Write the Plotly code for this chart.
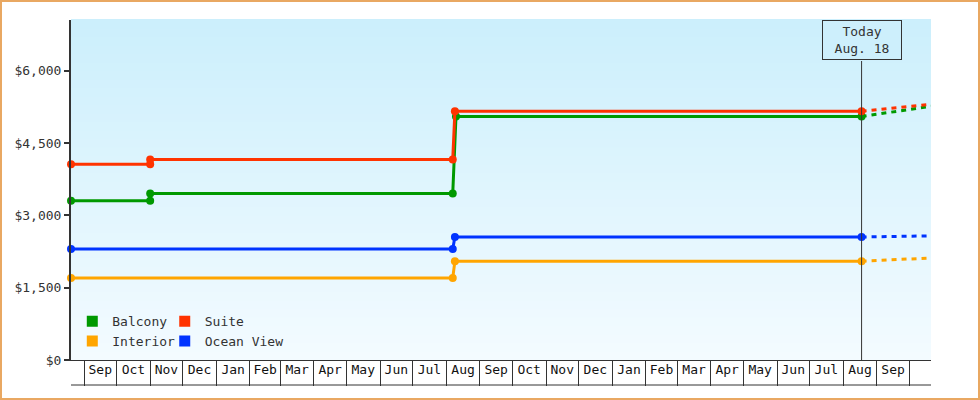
import pandas as pd
import plotly.graph_objects as go

# price history (USD)
balcony_dates = ["2014-08-20", "2014-11-01", "2014-11-01", "2015-08-07", "2015-08-10", "2016-08-18"]
balcony_prices = [3300, 3300, 3450, 3450, 5050, 5050]

suite_dates = ["2014-08-20", "2014-11-01", "2014-11-01", "2015-08-07", "2015-08-09", "2016-08-18"]
suite_prices = [4060, 4060, 4160, 4160, 5160, 5160]

ocean_dates = ["2014-08-20", "2015-08-07", "2015-08-09", "2016-08-18"]
ocean_prices = [2300, 2300, 2550, 2550]

interior_dates = ["2014-08-20", "2015-08-07", "2015-08-09", "2016-08-18"]
interior_prices = [1700, 1700, 2050, 2050]

# projection from today to the end of the axis
today = "2016-08-18"
today_label = "Today<br>Aug. 18"
proj_end = "2016-10-21"
balcony_proj = [5050, 5260]
suite_proj = [5160, 5300]
ocean_proj = [2550, 2575]
interior_proj = [2050, 2115]

y_ticks = [0, 1500, 3000, 4500, 6000]

FONT = "DejaVu Sans Mono"
INK = "#333333"

series = [
    ("Interior", interior_dates, interior_prices, interior_proj, "#ffa500"),
    ("Ocean View", ocean_dates, ocean_prices, ocean_proj, "#0033ff"),
    ("Balcony", balcony_dates, balcony_prices, balcony_proj, "#009900"),
    ("Suite", suite_dates, suite_prices, suite_proj, "#ff3300"),
]

fig = go.Figure()
for name, d, p, proj, col in series:
    fig.add_trace(go.Scatter(
        x=[today, proj_end], y=proj, mode="lines",
        line=dict(color=col, width=3, dash="5px,5px"),
        showlegend=False, hoverinfo="skip"))
    fig.add_trace(go.Scatter(
        x=d, y=p, mode="lines+markers", name=name,
        line=dict(color=col, width=3),
        marker=dict(color=col, size=8),
        cliponaxis=False, showlegend=False))

# legend swatches: two columns
legend_cols = {"Balcony": "legend", "Interior": "legend",
               "Suite": "legend2", "Ocean View": "legend2"}
for name in ["Balcony", "Interior", "Suite", "Ocean View"]:
    col = [s[4] for s in series if s[0] == name][0]
    fig.add_trace(go.Scatter(
        x=[None], y=[None], mode="markers", name=name, xaxis="x2",
        marker=dict(symbol="square", size=11, color=col),
        legend=legend_cols[name]))

# month cells under the axis (last, partial month has no label)
months = pd.date_range("2014-09-01", "2016-10-01", freq="MS")
mids = (months + (months.shift(1, freq="MS") - months) / 2)[:-1]
month_labels = [m.strftime("%b") for m in months[:-1]]

# background gradient
top = (204, 239, 252)
bot = (243, 251, 255)
n = 40
for i in range(n):
    t = (i + 0.5) / n
    c = tuple(int(round(bot[k] + (top[k] - bot[k]) * t)) for k in range(3))
    fig.add_shape(type="rect", xref="paper", yref="paper",
                  x0=0, x1=1, y0=i / n, y1=(i + 1) / n + 0.003,
                  fillcolor="rgb(%d,%d,%d)" % c, line=dict(width=0), layer="below")

W, H = 980, 400
ml, mr, mt, mb = 71, 49, 20, 40
pw, ph = W - ml - mr, H - mt - mb

# bottom line of the month strip
fig.add_shape(type="line", xref="paper", yref="paper", x0=0, x1=1,
              y0=-25 / ph, y1=-25 / ph, line=dict(color=INK, width=1))

# today marker line and label
box_h = 41
fig.add_shape(type="line", x0=today, x1=today, yref="paper", y0=0, y1=1 - box_h / ph,
              line=dict(color=INK, width=1))
fig.add_annotation(x=today, y=1, yref="paper", yanchor="top", showarrow=False,
                   text=today_label, font=dict(family=FONT, size=13, color=INK),
                   bgcolor="#cdeffc", bordercolor=INK, borderwidth=1, borderpad=3,
                   width=72, align="center")

# outer border
fig.add_shape(type="rect", xref="paper", yref="paper",
              x0=(1 - ml) / pw, x1=(W - 1 - ml) / pw,
              y0=(1 - mb) / ph, y1=(H - 1 - mb) / ph,
              line=dict(color="#e9a862", width=2), fillcolor="rgba(0,0,0,0)")

legend_style = dict(font=dict(family=FONT, size=13, color=INK),
                    bgcolor="rgba(0,0,0,0)", yanchor="bottom", y=0.011,
                    itemsizing="trace", tracegroupgap=0)

fig.update_layout(
    width=W, height=H,
    margin=dict(l=ml, r=mr, t=mt, b=mb),
    paper_bgcolor="white", plot_bgcolor="white",
    font=dict(family=FONT, size=13, color=INK),
    xaxis=dict(type="date", range=["2014-08-20", proj_end],
               tickvals=months, ticks="outside", ticklen=25, tickwidth=1,
               tickcolor=INK, showticklabels=False, showgrid=False,
               showline=True, linecolor=INK, linewidth=1, zeroline=False),
    xaxis2=dict(type="date", overlaying="x", matches="x", side="bottom", anchor="y",
                tickvals=mids, ticktext=month_labels, ticks="",
                showgrid=False, showline=False,
                tickfont=dict(family=FONT, size=13, color="#111111")),
    yaxis=dict(range=[0, 7050], tickvals=y_ticks, tickformat="$,",
               ticks="outside", ticklen=5, tickwidth=2, tickcolor=INK,
               showline=True, linecolor=INK, linewidth=2, showgrid=False,
               zeroline=False, tickfont=dict(family=FONT, size=13, color=INK)),
    legend=dict(x=0.0015, xanchor="left", **legend_style),
    legend2=dict(x=0.109, xanchor="left", **legend_style),
)

fig.write_html("out.html", config={"displayModeBar": False},
               post_script="document.body.style.margin='0px';")
